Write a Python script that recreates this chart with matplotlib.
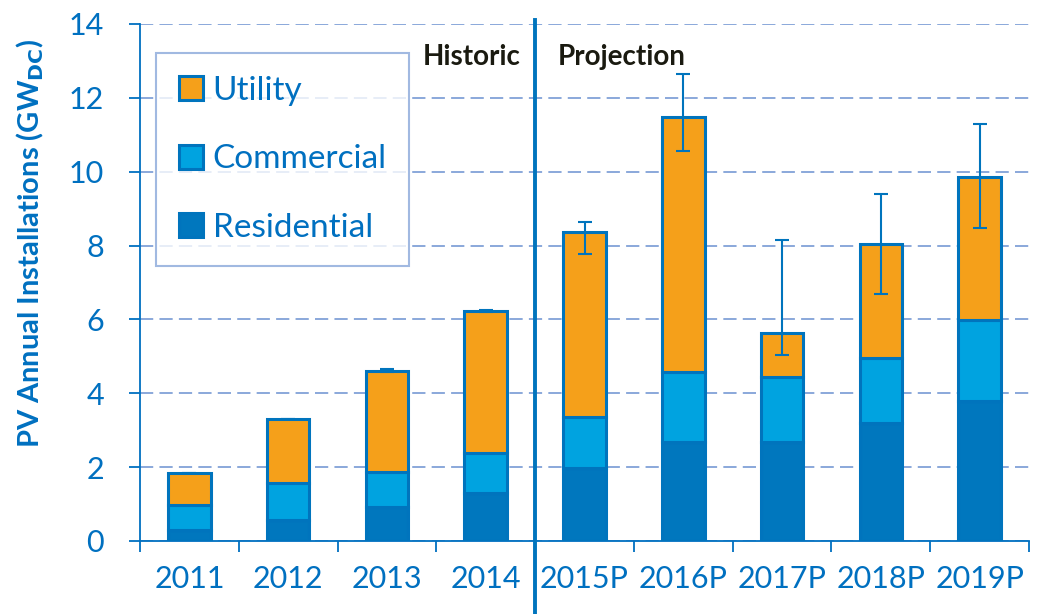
import matplotlib
matplotlib.use("Agg")
import matplotlib.pyplot as plt
from matplotlib.patches import Patch
import numpy as np

years = ["2011", "2012", "2013", "2014", "2015P", "2016P", "2017P", "2018P", "2019P"]
residential = [0.30, 0.57, 0.93, 1.31, 1.97, 2.69, 2.69, 3.19, 3.80]
commercial = [0.67, 1.01, 0.95, 1.08, 1.38, 1.88, 1.74, 1.77, 2.18]
utility = [0.88, 1.72, 2.72, 3.84, 5.01, 6.92, 1.21, 3.07, 3.88]
err_low = [1.85, 3.30, 4.58, 6.21, 7.76, 10.57, 5.05, 6.68, 8.48]
err_high = [1.85, 3.30, 4.66, 6.25, 8.63, 12.65, 8.15, 9.40, 11.29]

C_RES = "#0077BE"
C_COM = "#00A3E0"
C_UTL = "#F5A01A"
C_EDGE = "#0074BD"
C_TXT = "#0070C0"
C_GRID = "#8AA8DA"

plt.rcParams['font.family'] = ['Lato', 'DejaVu Sans']

fig = plt.figure(figsize=(10.39, 6.14), dpi=100)
ax = fig.add_axes([140/1039, 1-541/614, (1029-140)/1039, (541-24)/614])

x = np.arange(len(years))
w = 0.43
res = np.array(residential); com = np.array(commercial); utl = np.array(utility)
ax.bar(x, res, w, color=C_RES, edgecolor=C_EDGE, linewidth=2.2, zorder=3, label="Residential")
ax.bar(x, com, w, bottom=res, color=C_COM, edgecolor=C_EDGE, linewidth=2.2, zorder=3, label="Commercial")
ax.bar(x, utl, w, bottom=res+com, color=C_UTL, edgecolor=C_EDGE, linewidth=2.2, zorder=3, label="Utility")

lo = np.array(err_low); hi = np.array(err_high)
mid = (lo + hi) / 2
ax.errorbar(x, mid, yerr=[mid - lo, hi - mid], fmt='none', ecolor=C_EDGE,
            elinewidth=1.5, capsize=5, capthick=1.5, zorder=4)

ax.set_xlim(-0.5, len(years) - 0.5)
ax.set_ylim(0, 14)
ax.set_yticks(np.arange(0, 15, 2))
ax.yaxis.grid(True, color=C_GRID, linestyle=(0, (6.8, 3.2)), linewidth=1.4, zorder=0)
ax.set_axisbelow(True)

ax.set_xticks(np.arange(-0.5, len(years), 1.0))
ax.set_xticklabels([])
ax.set_xticks(x, minor=True)
ax.set_xticklabels(years, minor=True)
ax.tick_params(axis='x', which='major', length=8, width=1.3, color=C_TXT)
ax.tick_params(axis='x', which='minor', length=0, pad=17, labelsize=22, labelcolor=C_TXT)
ax.tick_params(axis='y', length=8, width=1.3, color=C_TXT, pad=18, labelsize=22, labelcolor=C_TXT)

for s in ['top', 'right']:
    ax.spines[s].set_visible(False)
for s in ['left', 'bottom']:
    ax.spines[s].set_color(C_TXT)
    ax.spines[s].set_linewidth(1.3)

# divider line
ax.plot([3.5, 3.5], [14.12, -1.98], color=C_EDGE, linewidth=2.8, clip_on=False, zorder=5)

ax.text(3.35, 13.1, "Historic", ha='right', va='center', fontsize=20, fontweight='bold', color='#1A1A10')
ax.text(3.73, 13.1, "Projection", ha='left', va='center', fontsize=20, fontweight='bold', color='#1A1A10')

fig.text(30/1039, 1-243/614, "PV Annual Installations (GW$_{\\mathbf{DC}}$)", rotation=90,
         ha='center', va='center', fontsize=21, fontweight='bold', color=C_TXT)

handles = [Patch(facecolor=C_UTL, edgecolor=C_EDGE, linewidth=2.2, label="Utility"),
           Patch(facecolor=C_COM, edgecolor=C_EDGE, linewidth=2.2, label="Commercial"),
           Patch(facecolor=C_RES, edgecolor=C_EDGE, linewidth=2.2, label="Residential")]
leg = ax.legend(handles=handles, loc='upper left', bbox_to_anchor=((156-140)/889, (541-53)/517),
                fontsize=24, frameon=True, fancybox=False, borderaxespad=0,
                handlelength=0.72, handleheight=0.72, handletextpad=0.3,
                labelspacing=1.16, borderpad=0.68, labelcolor=C_TXT)
leg.get_frame().set_edgecolor(C_GRID)
leg.get_frame().set_linewidth(1.5)
leg.set_zorder(6)

fig.savefig("out.png", dpi=100)
